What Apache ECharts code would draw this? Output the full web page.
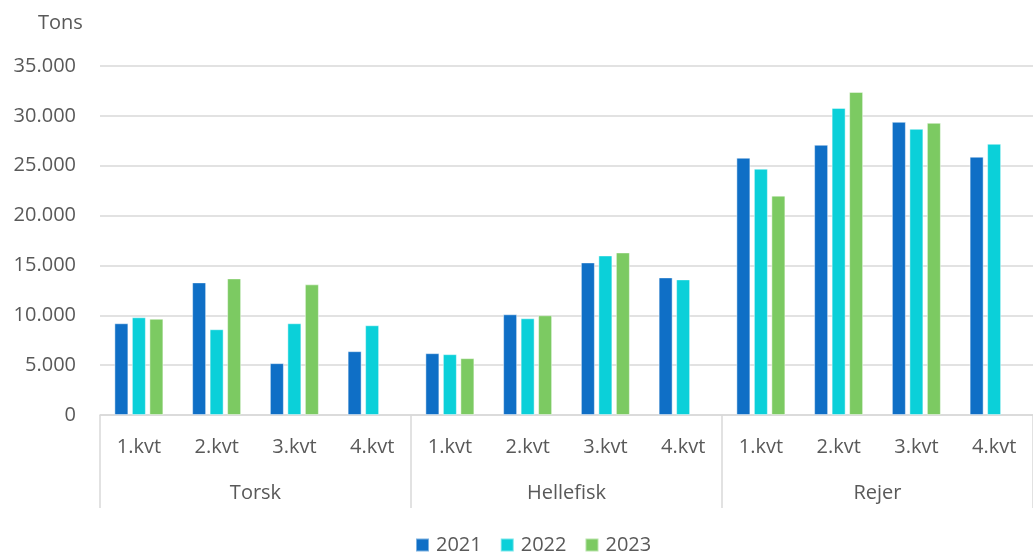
<!DOCTYPE html>
<html>
<head>
<meta charset="utf-8">
<script src="https://cdn.jsdelivr.net/npm/echarts@6/dist/echarts.min.js"></script>
<style>
  html, body { margin: 0; padding: 0; background: #fff; }
  #chart { width: 1033px; height: 554px; }
</style>
</head>
<body>
<div id="chart"></div>
<script>
// quarters inside each species group
const quarters = ['1.kvt', '2.kvt', '3.kvt', '4.kvt',
                  '1.kvt', '2.kvt', '3.kvt', '4.kvt',
                  '1.kvt', '2.kvt', '3.kvt', '4.kvt']
const groups = ['Torsk', 'Hellefisk', 'Rejer']
const years = ['2021', '2022', '2023']

// tons per quarter
const tons2021 = [9200, 13300, 5200, 6400, 6200, 10100, 15300, 13800, 25800, 27100, 29400, 25900]
const tons2022 = [9800, 8600, 9200, 9000, 6100, 9700, 16000, 13600, 24700, 30800, 28700, 27200]
const tons2023 = [9650, 13700, 13100, null, 5700, 10000, 16300, null, 22000, 32400, 29300, null]

const colors = ['#0F6FC6', '#0BD0D9', '#7CCA62']
const textColor = '#595959'
const lineColor = '#d9d9d9'
const font = 'Open Sans'

const fmt = v => String(v).replace(/\B(?=(\d{3})+(?!\d))/g, '.')

const chart = echarts.init(document.getElementById('chart'))

const bar = (name, data, i) => ({
  name: name,
  type: 'bar',
  data: data,
  barWidth: 14,
  barGap: '25%',
  itemStyle: {
    color: colors[i],
    borderColor: 'rgba(255,255,255,0.45)',
    borderWidth: 1
  }
})

const option = {
  animation: false,
  textStyle: { fontFamily: font },
  title: {
    text: 'Tons',
    left: 33,
    top: 8,
    textStyle: { fontFamily: font, fontSize: 20, fontWeight: 'normal', color: textColor }
  },
  legend: {
    data: years,
    left: 410,
    top: 530,
    icon: 'rect',
    itemWidth: 13,
    itemHeight: 13,
    itemGap: 18,
    textStyle: { fontFamily: font, fontSize: 20, color: textColor, padding: [0, 0, 0, 2] }
  },
  grid: {
    left: 100,
    right: 0,
    top: 66,
    bottom: 139,
    containLabel: false
  },
  xAxis: [
    {
      type: 'category',
      data: quarters,
      axisLine: { lineStyle: { color: lineColor, width: 1.5 } },
      axisTick: { show: false },
      axisLabel: { margin: 22, fontFamily: font, fontSize: 20, color: textColor, interval: 0 }
    },
    {
      type: 'category',
      data: groups,
      position: 'bottom',
      axisLine: { show: false },
      axisTick: { show: true, length: 93, interval: 0, lineStyle: { color: lineColor, width: 1.5 } },
      axisLabel: { margin: 68, fontFamily: font, fontSize: 20, color: textColor, interval: 0 },
      splitLine: { show: false }
    }
  ],
  yAxis: {
    type: 'value',
    min: 0,
    max: 35000,
    interval: 5000,
    axisLine: { show: false },
    axisTick: { show: false },
    axisLabel: { margin: 24, fontFamily: font, fontSize: 20, color: textColor, formatter: fmt },
    splitLine: { lineStyle: { color: lineColor, width: 1.5 } }
  },
  series: [
    bar('2021', tons2021, 0),
    bar('2022', tons2022, 1),
    bar('2023', tons2023, 2)
  ]
}

chart.setOption(option)
</script>
</body>
</html>
